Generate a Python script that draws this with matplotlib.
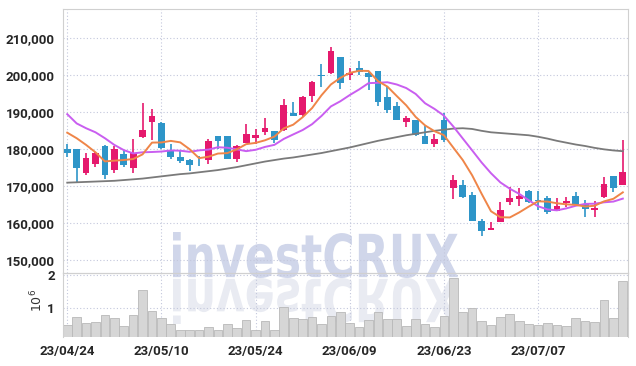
import numpy as np
import matplotlib.pyplot as plt
from matplotlib.textpath import TextPath
from matplotlib.patches import PathPatch
from matplotlib.font_manager import FontProperties
from matplotlib.transforms import Affine2D

plt.rcParams['font.family'] = ['Roboto', 'DejaVu Sans']

# daily candles, 2023-04-24 .. 2023-07-20 (60 trading days)
date_ticks = [0, 10, 20, 30, 40, 50]
date_labels = ["23/04/24", "23/05/10", "23/05/24", "23/06/09", "23/06/23", "23/07/07"]

opens = [180000, 180000, 173500, 176000, 181000, 174500, 178800, 175000, 183400, 187500,
         187200, 179800, 178000, 177100, 177200, 177100, 183600, 183600, 177500, 181800,
         183100, 184700, 184900, 185200, 189900, 189300, 194500, 200100, 200500, 205000,
         200000, 201900, 200700, 201200, 194200, 191800, 187500, 187900, 183600, 181400,
         187900, 169500, 170400, 167600, 160600, 158300, 160400, 165700, 166600, 168700,
         166200, 166800, 163400, 165400, 167400, 165200, 163700, 167200, 172800, 170500]
highs = [181400, 180200, 178900, 179300, 181200, 181000, 179800, 182700, 192400, 190800,
         187300, 181500, 179500, 177300, 178100, 182800, 183700, 183600, 181200, 186800,
         185400, 188500, 185000, 193500, 192700, 194500, 198500, 203000, 207600, 205000,
         201900, 203900, 200800, 201200, 196900, 192700, 189000, 188000, 186300, 184100,
         189700, 173200, 171700, 168400, 161100, 160400, 165700, 169900, 169500, 169000,
         168700, 167500, 166900, 167200, 168400, 166300, 166000, 172400, 172800, 182500]
lows = [178000, 171300, 173000, 175300, 171900, 173500, 175300, 173500, 183000, 182500,
        180200, 177400, 176300, 174200, 175500, 176000, 180200, 177500, 176600, 181600,
        181400, 183800, 181600, 185000, 189100, 188800, 192700, 196900, 200300, 196200,
        198700, 200100, 196000, 191700, 189700, 187800, 185900, 183500, 181400, 180700,
        182000, 166500, 166800, 160700, 156600, 158100, 160400, 164900, 164700, 165600,
        163600, 162600, 163400, 164400, 164700, 161700, 161800, 166900, 168500, 170300]
closes = [179100, 175000, 177600, 178900, 173100, 180100, 175900, 178900, 185200, 189000,
          180300, 178000, 176900, 175900, 177000, 182200, 182300, 177500, 180900, 184100,
          183900, 185800, 182500, 192000, 189100, 194000, 198100, 199800, 206600, 198000,
          200700, 201000, 199500, 192900, 190600, 187900, 188500, 183900, 181400, 182800,
          182500, 171700, 167200, 160700, 158000, 158800, 163600, 166900, 167500, 165800,
          166000, 163200, 164700, 166000, 165100, 163800, 164200, 170600, 169500, 173800]
volumes = [0.48, 0.73, 0.54, 0.57, 0.79, 0.70, 0.45, 0.79, 1.53, 0.92,
           0.70, 0.51, 0.35, 0.35, 0.35, 0.44, 0.33, 0.53, 0.41, 0.65,
           0.35, 0.62, 0.35, 1.03, 0.70, 0.68, 0.73, 0.51, 0.75, 0.88,
           0.56, 0.44, 0.65, 0.88, 0.68, 0.68, 0.47, 0.68, 0.53, 0.44,
           0.76, 1.89, 0.88, 1.00, 0.62, 0.50, 0.73, 0.82, 0.62, 0.53,
           0.50, 0.56, 0.50, 0.47, 0.70, 0.62, 0.59, 1.24, 0.70, 1.80]  # x 10^6

# moving averages: the first values depend on days before the window
ma5_head = [184500, 183000, 181200, 179200]
ma10_head = [189500, 187000, 185700, 184600, 183000, 181200, 179800, 178900, 179200]
ma60 = [171000, 171100, 171200, 171300, 171400, 171500, 171700, 171900, 172100, 172400,
        172700, 173000, 173300, 173500, 173800, 174100, 174400, 174800, 175200, 175700,
        176200, 176700, 177100, 177500, 177800, 178200, 178600, 179000, 179500, 180000,
        180500, 181100, 181700, 182300, 182800, 183300, 183800, 184200, 184600, 185000,
        185300, 185600, 185700, 185500, 185000, 184600, 184400, 184200, 184000, 183800,
        183400, 182900, 182300, 181800, 181300, 180900, 180400, 180000, 179700, 179500]

UP = '#e5196d'
DOWN = '#2e95c8'
GRID = '#c3c7dc'


def rolling_mean(values, head, n):
    values = np.asarray(values, dtype=float)
    tail = np.convolve(values, np.ones(n) / n, mode='valid')
    return np.concatenate([head, tail])


x = np.arange(len(closes))
o = np.array(opens)
c = np.array(closes)
ma5 = rolling_mean(closes, ma5_head, 5)
ma10 = rolling_mean(closes, ma10_head, 10)

fig = plt.figure(figsize=(6.36, 3.66), dpi=100)
W, H = 636, 366

# watermark layer, under the (transparent) chart axes
wm = fig.add_axes([0, 0, 1, 1], zorder=0)
wm.set_xlim(0, W)
wm.set_ylim(H, 0)
wm.axis('off')
tp = TextPath((0, 0), "investCRUX", size=100,
              prop=FontProperties(family='DejaVu Sans', weight='bold'))
ext = tp.get_extents()
sx = 285 / ext.width
sy = 46 / ext.height
top = Affine2D().translate(-ext.x0, -ext.y0).scale(sx, -sy).translate(173, 278)
bot = Affine2D().translate(-ext.x0, -ext.y0).scale(sx, sy).translate(173, 278)
wm.add_patch(PathPatch(top.transform_path(tp), fc='#d0d6ea', ec='none'))
wm.add_patch(PathPatch(bot.transform_path(tp), fc='#e9ebf2', ec='none'))

ax = fig.add_axes([63 / W, 1 - 273 / H, 565 / W, 264 / H], zorder=1)
axv = fig.add_axes([63 / W, 1 - 337 / H, 565 / W, 64 / H], zorder=1, sharex=ax)
for a in (ax, axv):
    a.set_facecolor('none')
    for s in a.spines.values():
        s.set_color('#d0d0d0')
    a.grid(True, color=GRID, linestyle=(0, (1, 2)), linewidth=0.8)
    a.set_axisbelow(True)
    a.tick_params(length=0, pad=6, labelsize=9.5, colors='#262626')

colors = [UP if cc >= oo else DOWN for oo, cc in zip(o, c)]
ax.vlines(x, lows, highs, colors=colors, linewidth=1.2, zorder=2)
body = np.maximum(np.abs(c - o), 250)
ax.bar(x, body, bottom=np.minimum(o, c), width=0.72, color=colors, zorder=3)

ax.plot(x, ma60, color='#7a7a7a', linewidth=1.3, zorder=4)
ax.plot(x, ma10, color='#c95ef0', linewidth=1.4, zorder=4)
ax.plot(x, ma5, color='#ef8548', linewidth=1.4, zorder=4)

ax.set_xlim(-0.45, 59.55)
ax.set_ylim(146600, 217900)
ax.set_yticks([150000, 160000, 170000, 180000, 190000, 200000, 210000])
ax.yaxis.set_major_formatter(plt.FuncFormatter(lambda v, p: f"{v:,.0f}"))
ax.tick_params(axis='x', labelbottom=False)

axv.bar(x, volumes, width=0.92, color='#d6d6d6', edgecolor='#b8b8b8', linewidth=0.6, zorder=2)
axv.set_ylim(0.13, 2.05)
axv.set_yticks([1, 2])
axv.set_xticks(date_ticks)
axv.set_xticklabels(date_labels)
axv.spines['bottom'].set_visible(False)
for a in (ax, axv):
    for lab in a.get_yticklabels() + a.get_xticklabels():
        lab.set_fontweight('bold')
fig.text(37 / W, 1 - 300 / H, r'$10^6$', rotation=90, ha='center', va='center',
         fontsize=9, color='#333333')

fig.savefig("out.png", dpi=100)
